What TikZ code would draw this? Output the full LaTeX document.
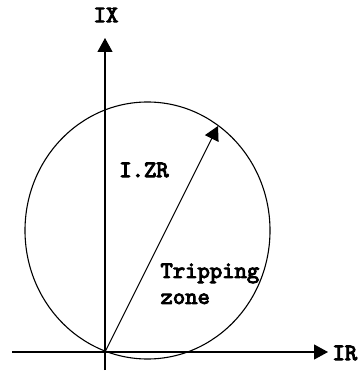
\documentclass[tikz,border=0pt]{standalone}
\usepackage{fontspec}
\newfontfamily\labelfont{lmmono10-regular.otf}[FakeBold=4]
\usepackage{tikz}
\usetikzlibrary{arrows.meta,positioning}
\tikzset{
  axislbl/.style={font=\labelfont\fontsize{23.5}{26}\selectfont,inner sep=0pt},
  bigtip/.style={-{Triangle[length=14pt,width=15pt]}}
}

\begin{document}
\begin{tikzpicture}[x=1pt,y=-1pt,line width=1.1pt]
        \useasboundingbox (0,0) rectangle (359,371);
        \coordinate (O) at (105,352);
        \coordinate (xs) at (12,352);
        \coordinate (xe) at (328,352);
        \coordinate (ys) at (105,370);
        \coordinate (ye) at (105,38);
        \coordinate (zr) at (218,126);
        \draw[bigtip] (xs)--(xe);
        \draw[bigtip] (ys)--(ye);
        \draw (147.5,230.5) ellipse [x radius=122.5,y radius=128.5];
        \draw[bigtip] (O)--(zr);
        \node[axislbl,anchor=west] (IR) at (332,353) {IR};
        \node[axislbl] (IX) at (106,15) {IX};
        \node[axislbl] (IZR) at (144,170) {I.ZR};
        \node[axislbl,align=left,anchor=north west] (trip) at (160,263) {Tripping\\zone};
      \end{tikzpicture}
\end{document}
